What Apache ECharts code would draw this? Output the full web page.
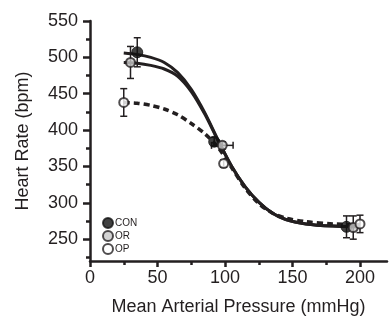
<!DOCTYPE html>
<html>
<head>
<meta charset="utf-8">
<script src="https://cdn.jsdelivr.net/npm/echarts@6/dist/echarts.min.js"></script>
<style>html,body{margin:0;padding:0;background:#fff;}#c{width:391px;height:321px;}</style>
</head>
<body>
<div id="c"></div>
<script>
// Measured points (mean +/- error)
const conX = [35, 92, 190];
const conY = [507, 384, 267];
const conErr = [20, 6, 15];
const conXErr = [0, 0, 0];

const orX = [30, 98, 195];
const orY = [493, 379, 266];
const orErr = [22, 5, 16];
const orXErr = [0, 8, 0];

const opX = [25, 99, 200];
const opY = [438, 354, 271];
const opErr = [19, 5, 12];
const opXErr = [0, 0, 0];

// Fitted curves
const curveX = [25, 35, 45, 55, 65, 75, 85, 95, 105, 115, 125, 135, 145, 160, 180, 200];
const conFit = [506, 504, 500, 493, 479, 456, 424, 386, 350, 322, 301, 286, 277, 271, 268, 267];
const orFit  = [493, 492, 489, 484, 474, 453, 422, 385, 350, 322, 301, 286, 277, 271, 268, 267];
const opFit  = [438, 437, 434, 429, 421, 409, 395, 376, 348, 320, 299, 286, 279, 274, 271, 270];

const yLabels = [250, 300, 350, 400, 450, 500, 550];
const yMinor = [225, 275, 325, 375, 425, 475, 525];
const xLabels = [0, 50, 100, 150, 200];
const xMinor = [25, 75, 125, 175];

const FONT = 'Liberation Sans, Arial, sans-serif';
const TXT = '#231f20';

function zip(a, b) { return a.map((v, i) => [v, b[i]]); }
function zip4(a, b, c, d) { return a.map((v, i) => [v, b[i], c[i], d[i]]); }

function errRender(params, api) {
  const x = api.value(0), y = api.value(1), e = api.value(2), ex = api.value(3);
  const children = [];
  const style = { stroke: '#231f20', lineWidth: 1.5 };
  const cap = 3.5;
  if (e > 0) {
    const a = api.coord([x, y + e]), b = api.coord([x, y - e]);
    children.push({ type: 'line', shape: { x1: a[0], y1: a[1], x2: b[0], y2: b[1] }, style });
    children.push({ type: 'line', shape: { x1: a[0] - cap, y1: a[1], x2: a[0] + cap, y2: a[1] }, style });
    children.push({ type: 'line', shape: { x1: b[0] - cap, y1: b[1], x2: b[0] + cap, y2: b[1] }, style });
  }
  if (ex > 0) {
    const a = api.coord([x - ex, y]), b = api.coord([x + ex, y]);
    children.push({ type: 'line', shape: { x1: a[0], y1: a[1], x2: b[0], y2: b[1] }, style });
    children.push({ type: 'line', shape: { x1: a[0], y1: a[1] - cap, x2: a[0], y2: a[1] + cap }, style });
    children.push({ type: 'line', shape: { x1: b[0], y1: b[1] - cap, x2: b[0], y2: b[1] + cap }, style });
  }
  return { type: 'group', children };
}

const chart = echarts.init(document.getElementById('c'), null, { renderer: 'canvas' });
const axisLineStyle = { color: '#231f20', width: 2.5 };
chart.setOption({
  animation: false,
  backgroundColor: '#fff',
  grid: { left: 90, right: 4, top: 21, bottom: 57, containLabel: false },
  legend: {
    orient: 'vertical', left: 97, top: 212,
    itemWidth: 10, itemHeight: 10, itemGap: 1,
    icon: 'circle',
    data: ['CON', 'OR', 'OP'],
    textStyle: { fontFamily: FONT, fontSize: 10, color: TXT, padding: [0, 0, 0, -3] }
  },
  xAxis: [{
    type: 'value', min: 0, max: 220,
    axisLine: { lineStyle: axisLineStyle },
    axisTick: { customValues: xLabels, length: 6, lineStyle: { width: 2.5, color: '#231f20' } },
    axisLabel: { customValues: xLabels, fontFamily: FONT, fontSize: 18, color: TXT, margin: 8 },
    splitLine: { show: false },
    name: 'Mean Arterial Pressure (mmHg)', nameLocation: 'middle', nameGap: 37,
    nameTextStyle: { fontFamily: FONT, fontSize: 18, color: TXT, verticalAlign: 'top' }
  }, {
    type: 'value', min: 0, max: 220, position: 'bottom',
    axisLine: { show: false },
    axisTick: { customValues: xMinor, length: 4, lineStyle: { width: 2.5, color: '#231f20' } },
    axisLabel: { show: false }, splitLine: { show: false }
  }],
  yAxis: [{
    type: 'value', min: 220, max: 550,
    axisLine: { show: true, lineStyle: axisLineStyle },
    axisTick: { customValues: yLabels, length: 7, lineStyle: { width: 2.5, color: '#231f20' } },
    axisLabel: { customValues: yLabels, fontFamily: FONT, fontSize: 18, color: TXT, margin: 12 },
    splitLine: { show: false },
    name: 'Heart Rate (bpm)', nameLocation: 'middle', nameGap: 58,
    nameTextStyle: { fontFamily: FONT, fontSize: 18, color: TXT }
  }, {
    type: 'value', min: 220, max: 550, position: 'left',
    axisLine: { show: false },
    axisTick: { customValues: yMinor, length: 4, lineStyle: { width: 2.5, color: '#231f20' } },
    axisLabel: { show: false }, splitLine: { show: false }
  }],
  series: [
    { name: 'CON fit', type: 'line', data: zip(curveX, conFit), smooth: 0.3, showSymbol: false,
      lineStyle: { color: '#231f20', width: 3 }, z: 2 },
    { name: 'OR fit', type: 'line', data: zip(curveX, orFit), smooth: 0.3, showSymbol: false,
      lineStyle: { color: '#231f20', width: 3 }, z: 2 },
    { name: 'OP fit', type: 'line', data: zip(curveX, opFit), smooth: 0.3, showSymbol: false,
      lineStyle: { color: '#231f20', width: 3.5, type: [6, 4] }, z: 2 },
    { name: 'CON err', type: 'custom', renderItem: errRender, data: zip4(conX, conY, conErr, conXErr), z: 3 },
    { name: 'OR err', type: 'custom', renderItem: errRender, data: zip4(orX, orY, orErr, orXErr), z: 3 },
    { name: 'OP err', type: 'custom', renderItem: errRender, data: zip4(opX, opY, opErr, opXErr), z: 3 },
    { name: 'CON', type: 'scatter', data: zip(conX, conY), symbol: 'circle', symbolSize: 11,
      itemStyle: { color: '#111', borderColor: '#111', borderWidth: 1 }, z: 5 },
    { name: 'OR', type: 'scatter', data: zip(orX, orY), symbol: 'circle', symbolSize: 9,
      itemStyle: { color: '#c8c8c8', borderColor: '#231f20', borderWidth: 2 }, z: 5 },
    { name: 'OP', type: 'scatter', data: zip(opX, opY), symbol: 'circle', symbolSize: 9,
      itemStyle: { color: '#ffffff', borderColor: '#231f20', borderWidth: 2 }, z: 5 }
  ]
});
</script>
</body>
</html>
